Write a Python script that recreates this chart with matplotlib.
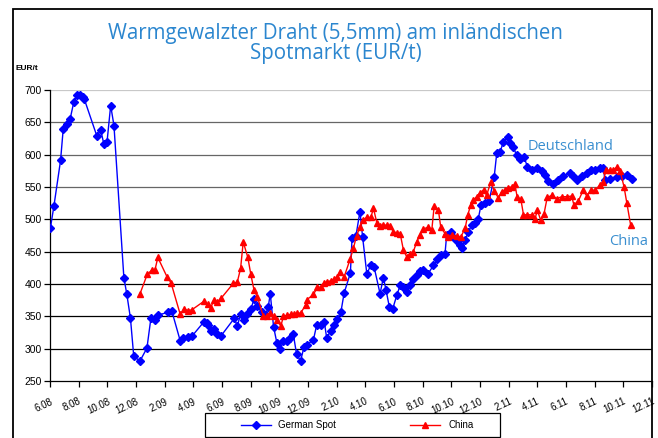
import matplotlib
matplotlib.use("Agg")
import matplotlib.pyplot as plt
from matplotlib.patches import Rectangle
import numpy as np
import pandas as pd

# weeks since 1 June 2008 and prices in EUR/t
german_weeks = [0.1, 1.2, 3.2, 4.0, 5.1, 6.1, 7.2, 8.1, 9.2, 9.9, 10.4, 14.2, 15.4, 16.3, 17.3,
                18.4, 19.4, 22.4, 23.3, 24.4, 25.4, 27.3, 29.4, 30.6, 31.8, 32.7, 35.7, 36.9,
                39.5, 40.4, 41.9, 43.0, 46.6, 47.5, 48.0, 48.8, 49.8, 50.7, 51.9, 55.9, 56.8,
                57.8, 58.8, 59.8, 60.9, 61.9, 62.9, 64.2, 65.4, 66.2, 66.8, 67.8, 68.8, 69.8,
                70.8, 72.0, 72.8, 73.8, 74.8, 76.0, 77.0, 78.0, 79.9, 80.9, 82.1, 83.2, 83.9,
                85.1, 86.1, 87.1, 88.2, 89.2, 91.1, 91.6, 92.8, 94.0, 94.8, 96.1, 97.3, 98.3,
                100.1, 101.1, 101.9, 102.9, 103.9, 105.2, 106.2, 107.2, 108.2, 109.2, 110.2,
                111.2, 112.2, 113.2, 114.7, 116.3, 117.5, 118.5, 119.8, 120.3, 121.5, 122.3,
                123.3, 124.4, 124.9, 125.9, 126.9, 127.9, 128.9, 129.9, 130.7, 131.9, 133.2,
                134.7, 135.5, 136.5, 137.5, 138.8, 139.5, 140.5, 141.5, 142.6, 143.8, 144.8,
                146.1, 147.6, 149.1, 150.1, 151.1, 152.6, 154.2, 155.7, 157.7, 158.7, 159.9,
                161.3, 162.8, 164.0, 165.3, 166.8, 167.8, 168.3, 169.8, 171.9, 173.4, 174.9,
                176.6]
german_spot = [486, 521, 591, 639, 647, 655, 681, 692, 692, 689, 686, 629, 638, 617, 620,
               676, 645, 410, 384, 347, 288, 281, 301, 347, 344, 352, 356, 359,
               312, 316, 318, 319, 341, 339, 337, 328, 330, 322, 320, 347, 335,
               353, 344, 354, 361, 377, 366, 356, 352, 365, 385, 334, 309, 299,
               312, 312, 316, 322, 291, 281, 302, 306, 314, 337, 336, 341, 317,
               327, 337, 346, 356, 386, 417, 471, 475, 512, 473, 415, 430, 426,
               385, 410, 391, 365, 361, 383, 398, 395, 388, 398, 407,
               414, 420, 422, 416, 429, 438, 445, 447, 476, 481, 473,
               466, 460, 455, 468, 481, 491, 494, 501, 522, 526, 529,
               565, 603, 604, 620, 627, 618, 612, 599, 594, 596, 581,
               576, 579, 574, 568, 559, 554, 561, 567, 571, 567, 561,
               567, 571, 576, 576, 580, 580, 561, 563, 566, 567, 568,
               563]

china_weeks = [27.3, 29.5, 30.8, 31.8, 32.7, 35.5, 36.7, 39.5, 40.6, 41.8, 43.0, 46.6, 47.8,
               48.7, 49.7, 50.7, 51.9, 55.6, 56.8, 57.8, 58.6, 60.0, 60.9, 61.9, 62.9, 64.7,
               65.7, 66.7, 67.9, 68.9, 70.0, 70.8, 72.0, 73.0, 74.0, 75.0, 76.0, 77.6, 78.0,
               79.9, 81.1, 82.1, 83.1, 84.1, 85.1, 86.1, 87.1, 88.0, 89.2, 91.0, 92.0, 93.0,
               94.0, 95.0, 96.1, 97.3, 98.1, 99.1, 100.1, 101.1, 102.1, 103.1, 104.1, 105.2,
               106.2, 107.2, 108.2, 109.2, 110.2, 111.2, 112.2, 113.2, 114.7, 115.8, 116.5,
               117.8, 118.5, 119.8, 120.8, 121.8, 123.3, 124.6, 125.9, 126.7, 127.6, 128.4,
               129.4, 130.4, 131.6, 132.4, 133.7, 134.7, 136.0, 137.0, 138.0, 139.0, 140.0,
               141.0, 141.7, 142.8, 143.6, 144.8, 146.1, 147.1, 147.8, 148.8, 149.8, 150.8,
               152.2, 153.7, 155.2, 156.7, 158.2, 158.9, 160.2, 161.7, 162.8, 164.0, 165.3,
               166.8, 167.8, 168.6, 169.8, 170.7, 172.0, 172.9, 174.1, 174.9, 176.1]
china = [385, 415, 421, 421, 441, 411, 402, 353, 361, 359, 360, 373, 369,
         363, 375, 372, 378, 401, 403, 424, 465, 441, 415, 390, 380, 350,
         350, 355, 350, 344, 335, 350, 352, 353, 354, 355, 355, 368, 376,
         384, 395, 395, 402, 403, 405, 407, 411, 419, 411, 438, 455, 475,
         488, 499, 503, 503, 517, 495, 490, 491, 491, 490, 481, 479,
         478, 452, 442, 447, 450, 465, 476, 485, 488, 484, 520,
         514, 488, 478, 472, 476, 474, 473, 486, 507, 522, 530,
         535, 541, 546, 537, 558, 544, 533, 543, 545, 549, 550,
         554, 534, 531, 507, 507, 507, 501, 514, 499, 508, 534,
         537, 532, 535, 535, 536, 522, 528, 545, 536, 545, 545,
         553, 558, 576, 576, 576, 581, 575, 550, 526, 491]

start = pd.Timestamp("2008-06-01")
german_dates = start + pd.to_timedelta(np.array(german_weeks) * 7, unit="D")
china_dates = start + pd.to_timedelta(np.array(china_weeks) * 7, unit="D")

plt.rcParams["font.family"] = ["Liberation Sans", "DejaVu Sans"]

fig = plt.figure(figsize=(6.58, 4.38), dpi=100)
ax = fig.add_axes([50 / 658, 1 - 381 / 438, 602 / 658, 291 / 438])

# outer chart frame
fig.patches.append(Rectangle((13 / 658, -0.05), (652 - 13) / 658, 1 - 9 / 438 + 0.05,
                             transform=fig.transFigure, fill=False, ec="black", lw=1.3))

# horizontal grid lines
for level in range(300, 701, 50):
    if level == 700:
        col = "#c8c8c8"
    elif level >= 550:
        col = "#666666"
    else:
        col = "#000000"
    ax.axhline(level, color=col, lw=0.9, zorder=1)

ax.plot(german_dates, german_spot, color="#0000ff", lw=1, marker="D", ms=3.6,
        label="German Spot", zorder=3)
ax.plot(china_dates, china, color="#ff0000", lw=1, marker="^", ms=4.6,
        label="China", zorder=3)

ax.set_ylim(250, 700)
ax.set_xlim(pd.Timestamp("2008-06-01"), pd.Timestamp("2011-12-01"))
ax.set_yticks(range(250, 701, 50))

ticks = pd.date_range("2008-06-01", "2011-12-01", freq="2MS")
ax.set_xticks(ticks)
ax.set_xticklabels([f"{d.month}.{d.strftime('%y')}" for d in ticks], rotation=25,
                   ha="right", va="top", rotation_mode="anchor", fontsize=7)
ax.tick_params(axis="y", labelsize=7.5, length=4, width=0.9, pad=2)
ax.tick_params(axis="x", length=4, width=0.9, pad=7)

for s in ["top", "right"]:
    ax.spines[s].set_visible(False)
ax.spines["left"].set_linewidth(0.9)
ax.spines["bottom"].set_linewidth(0.9)

fig.text(0.51, 1 - 33 / 438, "Warmgewalzter Draht (5,5mm) am inländischen",
         ha="center", va="center", fontsize=14.8, color="#2b86cf", family="Open Sans")
fig.text(0.51, 1 - 53 / 438, "Spotmarkt (EUR/t)",
         ha="center", va="center", fontsize=14.8, color="#2b86cf", family="Open Sans")
fig.text(15 / 658, 1 - 68 / 438, "EUR/t", fontsize=6, fontweight="bold", va="center")

ax.text(pd.Timestamp("2011-06-12"), 613, "Deutschland", fontsize=10.5, color="#3a8fd0",
        family="Open Sans", ha="center", va="center")
ax.text(pd.Timestamp("2011-10-12"), 465, "China", fontsize=10.5, color="#3a8fd0",
        family="Open Sans", ha="center", va="center")

# legend with its own box
fig.patches.append(Rectangle((205 / 658, 1 - 437 / 438), 295 / 658, 24 / 438,
                             transform=fig.transFigure, fill=False, ec="black", lw=0.9))
leg = fig.legend(loc="center", bbox_to_anchor=(357 / 658, 1 - 425 / 438), ncol=2,
                 fontsize=7, frameon=False, handlelength=3.1, handletextpad=0.8,
                 columnspacing=7.6)

fig.savefig("out.png", dpi=100)
